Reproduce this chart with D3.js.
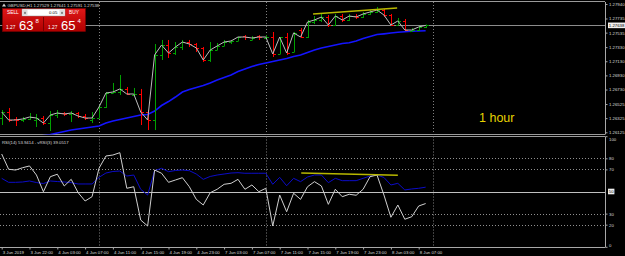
<!DOCTYPE html>
<html><head><meta charset="utf-8">
<script src="https://cdn.jsdelivr.net/npm/d3@7"></script>
<style>html,body{margin:0;padding:0;background:#000;overflow:hidden}</style>
</head><body><svg id="c" width="625" height="256" xmlns="http://www.w3.org/2000/svg"></svg>
<script>
// ---------- DATA ----------
const openP  = [1.26327,1.26412,1.26313,1.26299,1.26313,1.26299,1.26327,1.26256,1.26370,1.26398,1.26384,1.26398,1.26355,1.26299,1.26327,1.26483,1.26681,1.26695,1.26738,1.26653,1.26667,1.26412,1.26299,1.27219,1.27360,1.27247,1.27332,1.27402,1.27374,1.27318,1.27148,1.27289,1.27346,1.27402,1.27417,1.27487,1.27431,1.27487,1.27459,1.27473,1.27233,1.27473,1.27261,1.27572,1.27473,1.27685,1.27714,1.27756,1.27643,1.27770,1.27714,1.27770,1.27756,1.27799,1.27827,1.27855,1.27784,1.27643,1.27700,1.27558,1.27572,1.27615];
const highP  = [1.26440,1.26469,1.26341,1.26341,1.26398,1.26384,1.26355,1.26426,1.26440,1.26412,1.26426,1.26412,1.26384,1.26412,1.26511,1.26695,1.26823,1.26936,1.26766,1.26752,1.26738,1.26440,1.27374,1.27431,1.27431,1.27402,1.27431,1.27431,1.27388,1.27332,1.27402,1.27388,1.27431,1.27431,1.27473,1.27501,1.27487,1.27501,1.27501,1.27544,1.27473,1.27530,1.27544,1.27600,1.27714,1.27770,1.27799,1.27784,1.27799,1.27799,1.27799,1.27799,1.27827,1.27855,1.27898,1.27869,1.27799,1.27742,1.27728,1.27600,1.27629,1.27650];
const lowP   = [1.26228,1.26270,1.26214,1.26270,1.26299,1.26200,1.26228,1.26143,1.26327,1.26355,1.26270,1.26327,1.26299,1.26256,1.26327,1.26469,1.26681,1.26653,1.26653,1.26653,1.26228,1.26157,1.26157,1.27148,1.27176,1.27219,1.27289,1.27332,1.27261,1.27120,1.27120,1.27289,1.27346,1.27374,1.27417,1.27431,1.27431,1.27431,1.27459,1.27190,1.27233,1.27219,1.27261,1.27459,1.27459,1.27657,1.27685,1.27615,1.27629,1.27685,1.27700,1.27728,1.27742,1.27784,1.27813,1.27756,1.27629,1.27643,1.27558,1.27558,1.27558,1.27600];
const closeP = [1.26412,1.26299,1.26299,1.26313,1.26341,1.26327,1.26256,1.26370,1.26398,1.26384,1.26398,1.26355,1.26327,1.26327,1.26483,1.26681,1.26695,1.26738,1.26667,1.26667,1.26412,1.26299,1.27219,1.27360,1.27247,1.27332,1.27402,1.27374,1.27318,1.27148,1.27289,1.27346,1.27402,1.27417,1.27473,1.27473,1.27459,1.27473,1.27473,1.27233,1.27473,1.27247,1.27530,1.27473,1.27685,1.27714,1.27756,1.27643,1.27770,1.27714,1.27770,1.27756,1.27799,1.27827,1.27855,1.27784,1.27643,1.27700,1.27572,1.27572,1.27615,1.27638];
const maSlow = [1.25987,1.26001,1.26016,1.26030,1.26044,1.26058,1.26079,1.26093,1.26115,1.26136,1.26157,1.26171,1.26185,1.26200,1.26214,1.26256,1.26285,1.26306,1.26327,1.26348,1.26370,1.26377,1.26426,1.26504,1.26560,1.26624,1.26695,1.26730,1.26759,1.26787,1.26823,1.26865,1.26900,1.26936,1.26985,1.27021,1.27056,1.27084,1.27105,1.27127,1.27148,1.27169,1.27197,1.27219,1.27254,1.27289,1.27318,1.27339,1.27360,1.27381,1.27391,1.27417,1.27452,1.27480,1.27508,1.27518,1.27530,1.27540,1.27547,1.27554,1.27558,1.27561];
const rsiFast = [83.9,70.1,69.4,71.5,73.1,64.9,49.8,63.4,65.6,55.0,61.0,48.9,41.4,45.3,71.0,82.1,83.0,85.1,52.9,54.3,24.2,18.8,69.4,66.5,58.3,60.4,62.5,54.3,42.9,37.8,48.9,52.0,56.5,57.4,61.0,52.0,55.9,49.8,52.9,18.8,46.8,31.7,48.4,42.9,54.3,58.9,55.0,38.4,52.0,45.3,47.5,46.6,52.0,63.4,64.9,46.8,26.7,37.8,24.9,27.2,36.9,39.1];
const rsiSlow = [61.9,58.3,58.3,58.6,59.5,58.1,57.2,59.5,59.0,58.6,58.0,56.8,56.8,56.8,62.8,66.7,68.1,68.5,64.0,64.9,52.0,46.8,68.8,71.0,67.9,69.0,69.4,68.8,65.8,61.0,63.6,64.9,65.8,66.7,67.0,66.5,66.5,66.5,66.5,56.5,62.8,55.2,61.9,58.9,63.1,64.9,64.9,58.0,61.9,59.8,59.8,59.8,61.9,64.0,64.9,62.7,55.9,57.4,51.4,52.3,52.9,53.9];
const priceTicks = [1.27940,1.27735,1.27535,1.27330,1.27130,1.26930,1.26730,1.26525,1.26325,1.26125];
const bidPrice = 1.27638;
const rsiLevels = [80,70,30,20];
const rsiMid = 50;
const rsiTicks = [100,80,70,30,20,0];
const timeLabels = ["3 Jun 2019","3 Jun 22:00","4 Jun 03:00","4 Jun 07:00","4 Jun 11:00","4 Jun 15:00","4 Jun 19:00","4 Jun 23:00","7 Jun 03:00","7 Jun 07:00","7 Jun 11:00","7 Jun 15:00","7 Jun 19:00","7 Jun 23:00","8 Jun 03:00","8 Jun 07:00"];
const timeLabelIdx = [0,4,8,12,16,20,24,28,32,36,40,44,48,52,56,60];
const separatorIdx = [14,38,62];
const trendMainIdx = [44.8,56.9], trendMainPrice = [1.27799,1.27883];
const trendRsiIdx = [43.1,57.0], trendRsiVal = [66.7,64.6];
const headerText = "GBPUSD,H1  1.27529 1.27641 1.27591 1.27538";
const rsiLabel = "RSI(14) 53.9414 - vRSI(3) 39.0517";

// ---------- LAYOUT ----------
const W=625, H=256, axisX=605;
const mainTop=2, mainBot=134.5, rsiTop=136.5, rsiBot=247;
const svg=d3.select("#c");
const font="'Liberation Sans', Arial, sans-serif";
const fs=4.3;
const n=closeP.length;
const x=d3.scaleLinear().domain([0,n-1]).range([1.7,425.65]);
const y=d3.scaleLinear().domain([1.26125,1.27940]).range([132.3,4]);
const yr=d3.scaleLinear().domain([0,100]).range([246.8,136.2]);

svg.append("rect").attr("width",W).attr("height",H).attr("fill","#000");
const defs=svg.append("defs");
defs.append("clipPath").attr("id","cm").append("rect").attr("x",0).attr("y",mainTop).attr("width",axisX).attr("height",mainBot-mainTop);
defs.append("clipPath").attr("id","cr").append("rect").attr("x",0).attr("y",rsiTop).attr("width",axisX).attr("height",rsiBot-rsiTop);

// frame lines
svg.append("line").attr("x1",0).attr("x2",axisX).attr("y1",1.5).attr("y2",1.5).attr("stroke","#9a9a9a");
svg.append("line").attr("x1",0).attr("x2",axisX).attr("y1",mainBot).attr("y2",mainBot).attr("stroke","#9a9a9a");
svg.append("line").attr("x1",0).attr("x2",axisX).attr("y1",rsiTop).attr("y2",rsiTop).attr("stroke","#9a9a9a");

// day separators
const gm=svg.append("g").attr("clip-path","url(#cm)");
const gr=svg.append("g").attr("clip-path","url(#cr)");
[gm,gr].forEach((g,k)=>{
  g.selectAll(".sep").data(separatorIdx).join("line")
   .attr("x1",d=>Math.round(x(d))+0.5).attr("x2",d=>Math.round(x(d))+0.5)
   .attr("y1",k?rsiTop:mainTop).attr("y2",k?rsiBot:mainBot)
   .attr("stroke","#808080").attr("stroke-dasharray","1,2");
});

// bid line
gm.append("line").attr("x1",0).attr("x2",axisX).attr("y1",Math.round(y(bidPrice))+0.5).attr("y2",Math.round(y(bidPrice))+0.5).attr("stroke","#8c8c8c");

// MA slow
gm.append("path").datum(maSlow).attr("fill","none").attr("stroke","#1414ff").attr("stroke-width",1.6)
  .attr("d",d3.line().x((d,i)=>x(i)).y(d=>y(d)));

// bars
const bars=gm.selectAll(".bar").data(closeP.map((c,i)=>({i,o:openP[i],h:highP[i],l:lowP[i],c}))).join("g");
const col=d=>d.c>=d.o?"#00a000":"#ff0000";
bars.append("line").attr("x1",d=>Math.round(x(d.i))+0.5).attr("x2",d=>Math.round(x(d.i))+0.5)
  .attr("y1",d=>y(d.h)).attr("y2",d=>y(d.l)).attr("stroke",col);
bars.append("line").attr("x1",d=>Math.round(x(d.i))-2).attr("x2",d=>Math.round(x(d.i))+0.5)
  .attr("y1",d=>Math.round(y(d.o))+0.5).attr("y2",d=>Math.round(y(d.o))+0.5).attr("stroke",col);
bars.append("line").attr("x1",d=>Math.round(x(d.i))+0.5).attr("x2",d=>Math.round(x(d.i))+3)
  .attr("y1",d=>Math.round(y(d.c))+0.5).attr("y2",d=>Math.round(y(d.c))+0.5).attr("stroke",col);

// close line
gm.append("path").datum(closeP).attr("fill","none").attr("stroke","#bdbdbd").attr("stroke-width",1)
  .attr("d",d3.line().x((d,i)=>x(i)).y(d=>y(d)));

// trendline main
gm.append("line").attr("x1",x(trendMainIdx[0])).attr("x2",x(trendMainIdx[1]))
  .attr("y1",y(trendMainPrice[0])).attr("y2",y(trendMainPrice[1])).attr("stroke","#b8b800").attr("stroke-width",1.5);

// 1 hour text
svg.append("text").attr("x",479).attr("y",122).attr("fill","#e6d200").attr("font-family",font).attr("font-size",12.5).text("1 hour");

// RSI levels
gr.selectAll(".lvl").data(rsiLevels).join("line").attr("x1",0).attr("x2",axisX)
  .attr("y1",d=>Math.round(yr(d))+0.5).attr("y2",d=>Math.round(yr(d))+0.5)
  .attr("stroke","#909090").attr("stroke-dasharray","1,2");
gr.append("line").attr("x1",0).attr("x2",axisX).attr("y1",Math.round(yr(rsiMid))+0.5).attr("y2",Math.round(yr(rsiMid))+0.5).attr("stroke","#c0c0c0");

gr.append("path").datum(rsiSlow).attr("fill","none").attr("stroke","#0c0cc8").attr("stroke-width",1)
  .attr("d",d3.line().x((d,i)=>x(i)).y(d=>yr(d)));
gr.append("path").datum(rsiFast).attr("fill","none").attr("stroke","#cfcfcf").attr("stroke-width",1)
  .attr("d",d3.line().x((d,i)=>x(i)).y(d=>yr(d)));
gr.append("line").attr("x1",x(trendRsiIdx[0])).attr("x2",x(trendRsiIdx[1]))
  .attr("y1",yr(trendRsiVal[0])).attr("y2",yr(trendRsiVal[1])).attr("stroke","#b8b800").attr("stroke-width",1.5);

svg.append("text").attr("x",2).attr("y",143.5).attr("fill","#d8d8d8").attr("font-family",font).attr("font-size",fs).text(rsiLabel);

// axes
function styleAxis(g){
  g.selectAll("path.domain").attr("stroke","#a8a8a8");
  g.selectAll(".tick line").attr("stroke","#a8a8a8");
  g.selectAll(".tick text").attr("fill","#dcdcdc").attr("font-family",font).attr("font-size",fs);
}
const ay=svg.append("g").attr("transform",`translate(${axisX+0.5},0)`)
  .call(d3.axisRight(y).tickValues(priceTicks).tickSize(2).tickPadding(1.5).tickFormat(d3.format(".5f")));
ay.select("path.domain").attr("d",`M0,${mainTop}V${mainBot}`);
styleAxis(ay);
const ar=svg.append("g").attr("transform",`translate(${axisX+0.5},0)`)
  .call(d3.axisRight(yr).tickValues(rsiTicks).tickSize(2).tickPadding(1.5).tickFormat(d3.format("d")));
ar.select("path.domain").attr("d",`M0,${rsiTop}V${rsiBot}`);
styleAxis(ar);
ar.selectAll(".tick").filter(d=>d===100).select("text").attr("dy","1.0em");
ar.selectAll(".tick").filter(d=>d===0).select("text").attr("dy","-0.1em");

// highlighted labels
function hl(yy,txt){
  const g=svg.append("g");
  g.append("rect").attr("x",axisX+3).attr("y",yy-2.8).attr("width",txt.length*2.45+1.5).attr("height",5.6).attr("fill","#f0f0f0");
  g.append("text").attr("x",axisX+3.8).attr("y",yy+1.6).attr("fill","#000").attr("font-family",font).attr("font-size",fs).text(txt);
}
hl(y(bidPrice),d3.format(".5f")(bidPrice));
hl(yr(rsiMid),String(rsiMid));

const ax=svg.append("g").attr("transform",`translate(0,${rsiBot+0.5})`)
  .call(d3.axisBottom(x).tickValues(timeLabelIdx).tickSize(2).tickPadding(1.5).tickFormat((d,i)=>timeLabels[i]));
ax.select("path.domain").attr("d",`M0,0H${axisX+0.5}`);
styleAxis(ax);
ax.selectAll(".tick text").attr("text-anchor","start").attr("dx",0.5);

// header
svg.append("path").attr("d","M2,6.5 L4,3.5 L6,6.5 Z").attr("fill","#d0d0d0");
svg.append("text").attr("x",7.5).attr("y",6.8).attr("fill","#d8d8d8").attr("font-family",font).attr("font-size",fs).text(headerText);

// one-click trading panel
const tp=svg.append("g");
const grad=defs.append("linearGradient").attr("id","rg").attr("x1",0).attr("x2",0).attr("y1",0).attr("y2",1);
grad.append("stop").attr("offset",0).attr("stop-color","#e01818");
grad.append("stop").attr("offset",1).attr("stop-color","#b00000");
tp.append("rect").attr("x",2.5).attr("y",8.5).attr("width",83).attr("height",23).attr("fill","url(#rg)").attr("stroke","#7a0000").attr("stroke-width",0.6);
tp.append("rect").attr("x",22).attr("y",9).attr("width",43).attr("height",7).attr("fill","#fff").attr("stroke","#888").attr("stroke-width",0.5);
tp.append("rect").attr("x",22.5).attr("y",9.5).attr("width",5).attr("height",6).attr("fill","#ddd");
tp.append("rect").attr("x",59.5).attr("y",9.5).attr("width",5).attr("height",6).attr("fill","#ddd");
tp.append("path").attr("d","M24,13.5 L25,11.5 L26,13.5Z").attr("fill","#333");
tp.append("path").attr("d","M61,13.5 L62,11.5 L63,13.5Z").attr("fill","#333");
tp.append("text").attr("x",49).attr("y",14.3).attr("fill","#000").attr("font-family",font).attr("font-size",fs).text("0.05");
tp.append("text").attr("x",7).attr("y",14.3).attr("fill","#fff").attr("font-family",font).attr("font-size",fs+0.5).text("SELL");
tp.append("text").attr("x",69).attr("y",14.3).attr("fill","#fff").attr("font-family",font).attr("font-size",fs+0.5).text("BUY");
tp.append("line").attr("x1",43.5).attr("x2",43.5).attr("y1",17).attr("y2",31).attr("stroke","#7a0000");
tp.append("text").attr("x",6).attr("y",28.5).attr("fill","#fff").attr("font-family",font).attr("font-size",fs+0.5).text("1.27");
tp.append("text").attr("x",19).attr("y",30).attr("fill","#fff").attr("font-family",font).attr("font-size",13).text("63");
tp.append("text").attr("x",35.5).attr("y",23).attr("fill","#fff").attr("font-family",font).attr("font-size",6).text("8");
tp.append("text").attr("x",48).attr("y",28.5).attr("fill","#fff").attr("font-family",font).attr("font-size",fs+0.5).text("1.27");
tp.append("text").attr("x",61).attr("y",30).attr("fill","#fff").attr("font-family",font).attr("font-size",13).text("65");
tp.append("text").attr("x",77.5).attr("y",23).attr("fill","#fff").attr("font-family",font).attr("font-size",6).text("4");
</script></body></html>
